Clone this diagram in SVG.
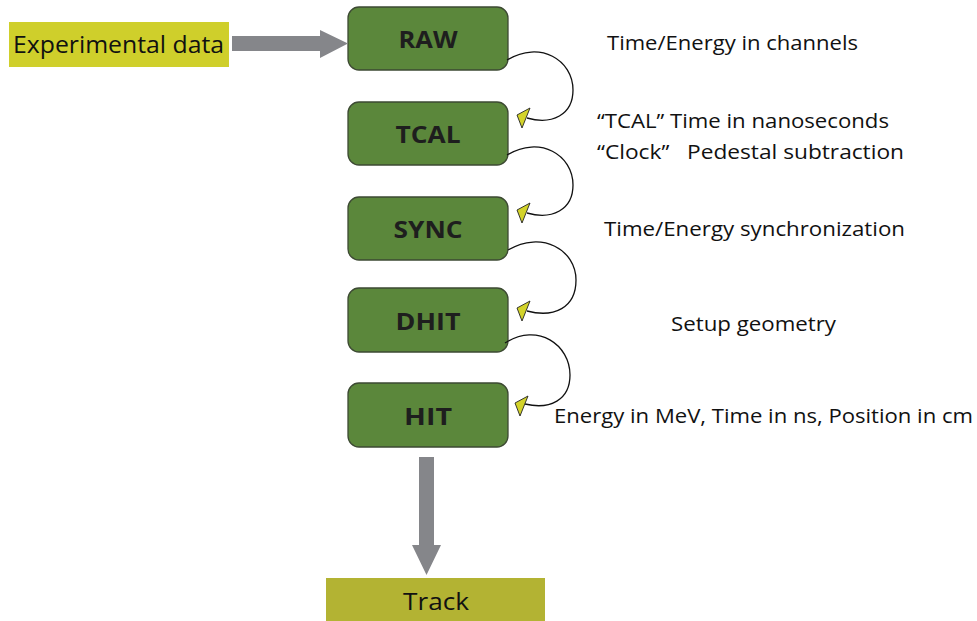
<svg xmlns="http://www.w3.org/2000/svg" width="977" height="621" viewBox="0 0 977 621">
<style>
.node rect{fill:#5b873b;stroke:#3d4a33;stroke-width:1.3}
.nt{font-family:"Open Sans","Liberation Sans",sans-serif;font-weight:bold;font-size:23px;fill:#1e1e1e;text-anchor:middle}
.lb{font-family:"Open Sans","Liberation Sans",sans-serif;font-size:20px;fill:#111}
.big{font-size:23px}
.curve{fill:none;stroke:#111;stroke-width:1.3}
.gray{fill:#85868a}
.head{fill:#d3d32a;stroke:#222;stroke-width:0.9;stroke-linejoin:round}
</style>
<rect width="977" height="621" fill="#fff"/>
<g id="experimental">
<rect x="9" y="22" width="220" height="45" fill="#cfcf2b"/>
<text class="lb big" x="13" y="53" textLength="211" lengthAdjust="spacingAndGlyphs">Experimental data</text>
</g>
<g id="raw" class="node"><rect x="348" y="7" width="160" height="63" rx="11"/><text class="nt" x="428" y="48" textLength="59" lengthAdjust="spacingAndGlyphs">RAW</text></g>
<g id="tcal" class="node"><rect x="348" y="102" width="160" height="63" rx="11"/><text class="nt" x="428" y="143" textLength="65" lengthAdjust="spacingAndGlyphs">TCAL</text></g>
<g id="sync" class="node"><rect x="348" y="197" width="160" height="63" rx="11"/><text class="nt" x="428" y="238" textLength="69" lengthAdjust="spacingAndGlyphs">SYNC</text></g>
<g id="dhit" class="node"><rect x="348" y="288" width="160" height="64" rx="11"/><text class="nt" x="428" y="330" textLength="65" lengthAdjust="spacingAndGlyphs">DHIT</text></g>
<g id="hit" class="node"><rect x="348" y="383" width="160" height="64" rx="11"/><text class="nt" x="428" y="425" textLength="48" lengthAdjust="spacingAndGlyphs">HIT</text></g>
<g id="track">
<rect x="326" y="578" width="219" height="43" fill="#b3b333"/>
<text class="lb big" x="436" y="610" text-anchor="middle" textLength="66" lengthAdjust="spacingAndGlyphs">Track</text>
</g>
<g id="connectors">
<path class="gray" d="M232,36 H320 V30 L348,43.5 L320,58 V51 H232 Z"/>
<path class="gray" d="M419,457 H434 V545 H441 L426.5,575 L412,545 H419 Z"/>
<path class="curve" d="M507,60 C540,40 573,60 573,90 C573,115 552,125 527,118"/>
<polygon class="head" points="530,108 517,115 522,128"/>
<path class="curve" d="M507,155 C540,135 573,155 573,185 C573,210 552,220 527,213"/>
<polygon class="head" points="530,203 517,210 522,223"/>
<path class="curve" d="M508,250 C542,230 576,250 576,280 C576,308 554,318 527,311"/>
<polygon class="head" points="530,301 517,308 522,321"/>
<path class="curve" d="M505,343 C538,322 570,345 570,375 C570,400 550,410 525,404"/>
<polygon class="head" points="528,396 515,403 520,416"/>
</g>
<g id="labels">
<text class="lb" x="607" y="50" textLength="251" lengthAdjust="spacingAndGlyphs">Time/Energy in channels</text>
<text class="lb" x="597" y="128" textLength="292" lengthAdjust="spacingAndGlyphs">“TCAL” Time in nanoseconds</text>
<text class="lb" x="597" y="159" textLength="307" lengthAdjust="spacingAndGlyphs" xml:space="preserve">“Clock”   Pedestal subtraction</text>
<text class="lb" x="604" y="236" textLength="301" lengthAdjust="spacingAndGlyphs">Time/Energy synchronization</text>
<text class="lb" x="671" y="331" textLength="165" lengthAdjust="spacingAndGlyphs">Setup geometry</text>
<text class="lb" x="554" y="423" textLength="419" lengthAdjust="spacingAndGlyphs">Energy in MeV, Time in ns, Position in cm</text>
</g>
</svg>
